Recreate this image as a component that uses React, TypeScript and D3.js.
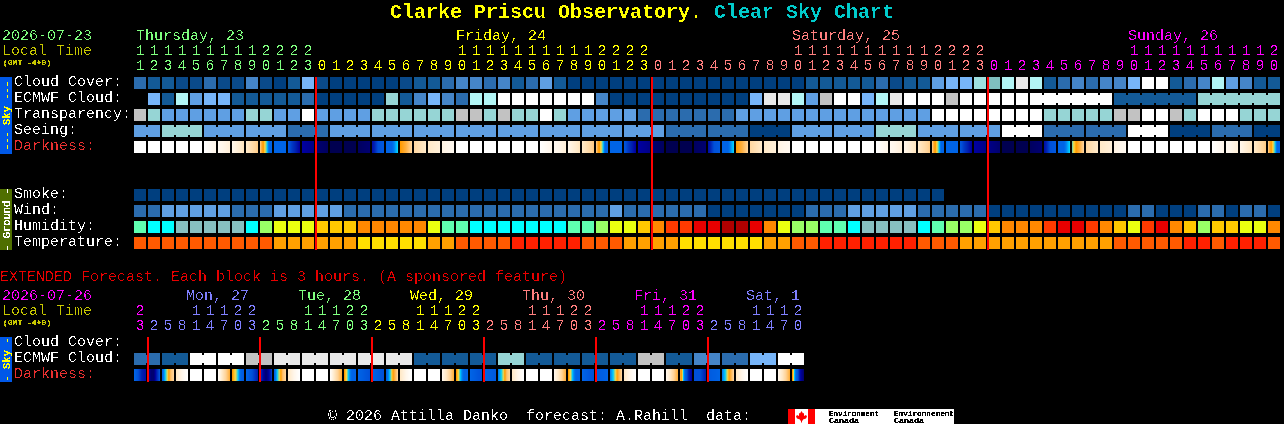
import React from "react";
import * as d3 from "d3";

const W = 1284, H = 424;

// ---------- data ----------
const hoursMain = [11,12,13,14,15,16,17,18,19,20,21,22,23,
  0,1,2,3,4,5,6,7,8,9,10,11,12,13,14,15,16,17,18,19,20,21,22,23,
  0,1,2,3,4,5,6,7,8,9,10,11,12,13,14,15,16,17,18,19,20,21,22,23,
  0,1,2,3,4,5,6,7,8,9,10,11,12,13,14,15,16,17,18,19,20];
const dayOfMain = (i: number) => (i < 13 ? "thu" : i < 37 ? "fri" : i < 61 ? "sat" : "sun");
const hoursExt = [23,2,5,8,11,14,17,20,23,2,5,8,11,14,17,20,23,2,5,8,11,14,17,20,23,2,5,8,11,14,17,20,23,2,5,8,11,14,17,20,23,2,5,8,11,14,17,20];
const dayOfExt = ["sun","mon","mon","mon","mon","mon","mon","mon","mon","tue","tue","tue","tue","tue","tue","tue","tue","wed","wed","wed","wed","wed","wed","wed","wed","thx","thx","thx","thx","thx","thx","thx","thx","frx","frx","frx","frx","frx","frx","frx","frx","sat2","sat2","sat2","sat2","sat2","sat2","sat2"];

const dayColors: Record<string, string> = {
  thu: "#7fff7f", fri: "#ffff00", sat: "#ff7f7f", sun: "#ff00ff",
  mon: "#7f7fff", tue: "#7fff7f", wed: "#ffff00", thx: "#ff7f7f", frx: "#ff00ff", sat2: "#7f7fff",
};
const dayLabelsMain = [
  { t: "Thursday, 23", x: 136, k: "thu" }, { t: "Friday, 24", x: 456, k: "fri" },
  { t: "Saturday, 25", x: 792, k: "sat" }, { t: "Sunday, 26", x: 1128, k: "sun" },
];
const dayLabelsExt = [
  { t: "Mon, 27", x: 186, k: "mon" }, { t: "Tue, 28", x: 298, k: "tue" }, { t: "Wed, 29", x: 410, k: "wed" },
  { t: "Thu, 30", x: 522, k: "thx" }, { t: "Fri, 31", x: 634, k: "frx" }, { t: "Sat, 1", x: 746, k: "sat2" },
];

const skyKeys = ["a","A","b","c","d","e","f","g","h","i","j","k","t","n"];
const skyColors = ["#003f7f","#0a4a8a","#135a97","#2b6cae","#4585c8","#5f9fe3","#77b5f9","#96d5d5","#b2f5f5","#c2c2c2","#e9e9e9","#ffffff","#7fbfbf","#9de0e0"];
const humidKeys = ["m","y","u","l","Y","A","O","R","D","K"];
const humidColors = ["#5fffb0","#00ffff","#87c0c0","#99ff66","#eaff10","#ffc800","#ff8800","#ff3a00","#e80000","#b00000"];
const tempKeys = ["o","p","z","r"];
const tempColors = ["#ff5a00","#ffa000","#ffdf00","#ff2000"];

const cloudCover = ("cbbAAcAAdAabfAaaaaaAb" + "bcddcdbceb" + "aaaaaaaaaaaaaaaaa" + "bbbb" + "bcAbbeffnthjhbcdcddfkkbcdhedbb").split("");
const ecmwfCloud = (".fbheffbbbbbcaaaaagbd" + "fdchhkkkkkkkd" + "aaaaaaaaaa" + "fjjheikk" + "fhjkkkik" + "kkkkkkkkkk" + "bbbbbb" + "gggggg").split("");
const transparency = ("igeeeeeeggeekeeeegggg" + "ggiigiggkg" + "eeeee" + "ccccccc" + "eeeeeeeee" + "eeeee" + "kkkkkkkk" + "ggggg" + "iikkigkkkggg").split("");
const seeingBlocks = [["e",2],["g",3],["e",3],["e",3],["c",3],["e",3],["e",3],["e",3],["e",3],["e",3],["e",3],["e",3],["e",3],["c",3],["c",3],["a",3],["e",3],["e",3],["g",3],["e",3],["e",3],["k",3],["c",3],["c",3],["k",3],["a",3],["c",3],["a",2]] as [string, number][];
const smoke = "aaaaaaaaaaaaaaaaaaaaaaaaaaaaaaaaaaaaaaaaaaaaaaaaaaaaaaaaaa".split("");
const wind = ("cceeeeeccceeeeecccccc" + "ccccccccccccc" + "e" + "cccccc" + "aaaaaaa" + "ccc" + "e" + "eeee" + "ccccc" + "aaaaaaaaaa" + "ccaaaccacca").split("");
const humidity = ("myyuuuuuylYYYAAAOOOOO" + "Ymm" + "yyyyyyy" + "mm" + "lYYAORRDDKKDOYllmmy" + "uuuuymllYAOOORDDROAYRDOAlAAYYO").split("");
const temperature = ("oooooooooo" + "pppppp" + "zzzzz" + "pp" + "oooo" + "rrrrr" + "ooo" + "pppp" + "zzzzzz" + "pp" + "oo" + "rrr" + "rrrr" + "ooo" + "ppppppppppp" + "ooooo" + "rrorrro").split("");
const ecmwfExt = ["c","b","k","k","i","j","j","j","j","j","b","b","b","g","b","b","b","b","i","b","d","c","f","k"];

const darkLevels = [0,1,2,3,4,5,5.5,5.8,6,6.5,7,8,9,10,11,12];
const darkColors = ["#ffffff","#fff6ea","#ffe9c8","#ffd398","#ffb040","#ff9a00","#ffd840","#80d0a0","#00d0ff","#0080f0","#0064e6","#0050d8","#0020b0","#0000a0","#000070","#000050"];

const darknessMain: number[][] = [
  [0],[0],[0],[0],[0],[0,1],[0.7,1.5],[1,2.2],[2,3.2],[3.4,4.8,5.5,6,7,7],[7],[7.8,8.5,9,10],[10,10.5],
  [11,11.5],[12],[12],[11.5,11],[9.5,8,7.6],[7,7,7,6.4,6],[5,4,3],[2.8,2],[2,1.5],[1.2,0.7],
  [0],[0],[0],[0],[0],[0],[0,1],[0.7,1.5],[1,2.2],[2,3.2],[3.4,4.8,5.5,6,7,7],[7],[7.8,8.5,9,10],[10,10.5],
  [11,11.5],[12],[12],[11.5,11],[9.5,8,7.6],[7,7,7,6.4,6],[5,4,3],[2.8,2],[2,1.5],[1.2,0.7],
  [0],[0],[0],[0],[0],[0],[0,1],[0.7,1.5],[1,2.2],[2,3.2],[3.4,4.8,5.5,6,7,7],[7],[7.8,8.5,9,10],[10,10.5],
  [10.5,11],[12],[12],[11.5,11],[9.5,8,7.6],[7,7,7,6.4,6],[5.8,5,4,3],[2.8,2],[2,1.5],[1.2,0.7],
  [0],[0],[0],[0],[0],[0],[0,1],[0.7,1.5],[1,2.2],[2,3.2],[3.4,4.8,5.5,6,7,7],
];
const darknessExt: number[][] = [
  [7,8,9,9.5],[10,11,11,9,8],[7,6,5.5,3.5,3],[2,1,0],[0],[0],[0.5,2,3,4],[5,5.5,6,7,7.5],[7,8,9],[8.5,10,11,10,8.5],
  [7,6,5.5,3.5,3],[2,1,0],[0],[0],[0.5,2,3,4],[5,6,7,7],[7,7.5,8],[7,7.5,8],[7,6.2,5.5,4,3],[2,1,0],[0],[0],
  [1,2,3,4],[5,6,7,7],[7,7.5,8],[7,7.5],[6.5,6,5.5,3.5,3],[2,1,0],[0],[0],[1,2,3,4],[5,6,7,7],[7,7.5,8],[7.5,7],
  [6.5,6,5.5,4,3],[2,1,0],[0],[0],[1,2,3,4],[4.5,6,7.5,9,10],[8,8,9],[7.5,7],[6.5,6,5.5,4,3],[2,1,0],[0],[0],[1,2,3,4],[5,6.5,8,10,11],
];

const redLinesMain = [13, 37, 61];
const redLinesExt = [1, 9, 17, 25, 33, 41];

// ---------- scales ----------
const x = d3.scaleLinear().domain([0, 1]).range([134, 148]);
const skyColor = d3.scaleOrdinal<string, string>().domain(skyKeys).range(skyColors);
const humidColor = d3.scaleOrdinal<string, string>().domain(humidKeys).range(humidColors);
const tempColor = d3.scaleOrdinal<string, string>().domain(tempKeys).range(tempColors);
const darkColor = d3.scaleLinear<string>().domain(darkLevels).range(darkColors).interpolate(d3.interpolateRgb);

const CELL = 12;
const MONO = '"Liberation Mono", monospace';

function Row({ vals, y, color, necks }: { vals: string[]; y: number; color: (k: string) => string; necks?: (i: number) => boolean }) {
  return (
    <g>
      {vals.map((v, i) =>
        v === "." ? null : (
          <g key={i}>
            <rect x={x(i)} y={y} width={CELL} height={CELL} fill={color(v)} />
            {necks && necks(i) && i + 1 < vals.length && vals[i + 1] === v ? (
              <rect x={x(i) + CELL} y={y + 2} width={2} height={8} fill={color(v)} />
            ) : null}
          </g>
        )
      )}
    </g>
  );
}

function DarkRow({ vals, y }: { vals: number[][]; y: number }) {
  const px = d3.range(CELL);
  return (
    <g>
      {vals.map((stops, i) => {
        const lev = stops.length === 1
          ? () => stops[0]
          : d3.scaleLinear().domain(stops.map((_, s) => (s * (CELL - 1)) / (stops.length - 1))).range(stops);
        return px.map((p) => (
          <rect key={i + "-" + p} x={x(i) + p} y={y} width={1} height={CELL} fill={darkColor(lev(p) as number)} />
        ));
      })}
    </g>
  );
}

const T = (p: any) => <text fontFamily={MONO} fontSize={15} xmlSpace="preserve" style={{ whiteSpace: "pre" }} {...p} />;

function Hours({ hours, colorOf, yTens, yUnits }: { hours: number[]; colorOf: (i: number) => string; yTens: number; yUnits: number }) {
  return (
    <g textAnchor="middle">
      {hours.map((h, i) => (
        <g key={i} fill={colorOf(i)}>
          {h >= 10 ? <T x={x(i) + 6} y={yTens}>{Math.floor(h / 10)}</T> : null}
          <T x={x(i) + 6} y={yUnits}>{h % 10}</T>
        </g>
      ))}
    </g>
  );
}

function SideLabel({ y0, y1, fill, color, label }: { y0: number; y1: number; fill: string; color: string; label: string }) {
  const c = (y0 + y1) / 2;
  return (
    <g>
      <rect x={0} y={y0} width={12} height={y1 - y0} fill={fill} shapeRendering="crispEdges" />
      <g filter="url(#crispSmall)">
        <text transform={`translate(9.5,${c}) rotate(-90)`} textAnchor="middle" fontFamily={MONO} fontSize={10.5} fill={color} style={{ whiteSpace: "pre" }}>{label}</text>
      </g>
    </g>
  );
}

export default function App() {
  const seeing = seeingBlocks.flatMap(([k, n]) => d3.range(n).map(() => k));
  const seeingEnds = new Set<number>();
  seeingBlocks.reduce((a, [, n]) => { seeingEnds.add(a + n - 1); return a + n; }, 0);
  const sky = (k: string) => skyColor(k);
  const extNeck = (i: number) => i % 2 === 0;
  const ecmwfExtCols = ecmwfExt.flatMap((k) => [k, k]);

  return (
    <svg width={W} height={H} viewBox={`0 0 ${W} ${H}`} style={{ position: "fixed", left: 0, top: 0, display: "block", background: "#000" }}>
      <defs>
        <filter id="crisp" filterUnits="userSpaceOnUse" x={0} y={0} width={W} height={H} colorInterpolationFilters="sRGB">
          <feComponentTransfer>
            <feFuncA type="discrete" tableValues="0 0 0 1 1" />
          </feComponentTransfer>
        </filter>
        <filter id="crispSmall" filterUnits="userSpaceOnUse" x={0} y={0} width={W} height={H} colorInterpolationFilters="sRGB">
          <feComponentTransfer>
            <feFuncA type="discrete" tableValues="0 1 1 1 1" />
          </feComponentTransfer>
        </filter>
      </defs>

      <g shapeRendering="crispEdges">
        <Row vals={cloudCover} y={77} color={sky} />
        <Row vals={ecmwfCloud} y={93} color={sky} necks={(i) => i >= 64} />
        <Row vals={transparency} y={109} color={sky} />
        <Row vals={seeing} y={125} color={sky} necks={(i) => !seeingEnds.has(i)} />
        <DarkRow vals={darknessMain} y={141} />
        <Row vals={smoke} y={189} color={sky} />
        <Row vals={wind} y={205} color={sky} />
        <Row vals={humidity} y={221} color={(k) => humidColor(k)} />
        <Row vals={temperature} y={237} color={(k) => tempColor(k)} />
        <Row vals={ecmwfExtCols} y={353} color={sky} necks={extNeck} />
        <DarkRow vals={darknessExt} y={369} />
        {redLinesMain.map((c) => <rect key={c} x={x(c) - 1} y={77} width={2} height={173} fill="#ff0000" />)}
        {redLinesExt.map((c) => <rect key={c} x={x(c) - 1} y={337} width={2} height={45} fill="#ff0000" />)}
      </g>

      <g filter="url(#crisp)">
        <text x={390} y={18} fontFamily={MONO} fontWeight="bold" fontSize={20} fill="#ffff00">Clarke Priscu Observatory.</text>
        <text x={714} y={18} fontFamily={MONO} fontWeight="bold" fontSize={20} fill="#00cccc">Clear Sky Chart</text>

        <T x={2} y={40} fill="#7fff7f">2026-07-23</T>
        <T x={2} y={55} fill="#c8c800">Local Time</T>
        {dayLabelsMain.map((d) => <T key={d.t} x={d.x} y={40} fill={dayColors[d.k]}>{d.t}</T>)}
        <Hours hours={hoursMain} colorOf={(i) => dayColors[dayOfMain(i)]} yTens={55} yUnits={70} />

        <g fill="#ffffff">
          <T x={14} y={86}>Cloud Cover:</T>
          <T x={14} y={102}>ECMWF Cloud:</T>
          <T x={14} y={118}>Transparency:</T>
          <T x={14} y={134}>Seeing:</T>
          <T x={14} y={198}>Smoke:</T>
          <T x={14} y={214}>Wind:</T>
          <T x={14} y={230}>Humidity:</T>
          <T x={14} y={246}>Temperature:</T>
          <T x={14} y={346}>Cloud Cover:</T>
          <T x={14} y={362}>ECMWF Cloud:</T>
        </g>
        <T x={14} y={150} fill="#e83030">Darkness:</T>
        <T x={14} y={378} fill="#e83030">Darkness:</T>

        <T x={0} y={281} fill="#e80000">EXTENDED Forecast. Each block is 3 hours. (A sponsored feature)</T>
        <T x={2} y={300} fill="#ff00ff">2026-07-26</T>
        <T x={2} y={315} fill="#c8c800">Local Time</T>
        {dayLabelsExt.map((d) => <T key={d.t} x={d.x} y={300} fill={dayColors[d.k]}>{d.t}</T>)}
        <Hours hours={hoursExt} colorOf={(i) => dayColors[dayOfExt[i]]} yTens={315} yUnits={330} />

        <T x={328} y={420} fill="#ffffff">{"© 2026 Attilla Danko  forecast: A.Rahill  data:"}</T>
      </g>

      <g filter="url(#crispSmall)" fontFamily={MONO} fontSize={8} fill="#c8c800">
        <text x={3} y={65}>(GMT -4+0)</text>
        <text x={3} y={325}>(GMT -4+0)</text>
      </g>

      <SideLabel y0={77} y1={154} fill="#0058e8" color="#ffff00" label="--- Sky ---" />
      <SideLabel y0={189} y1={250} fill="#4f6f00" color="#ffffff" label="- Ground -" />
      <SideLabel y0={337} y1={382} fill="#0058e8" color="#ffff00" label="- Sky -" />

      <g>
        <rect x={788} y={409} width={166} height={15} fill="#ffffff" shapeRendering="crispEdges" />
        <rect x={788} y={409} width={7} height={15} fill="#ff0000" shapeRendering="crispEdges" />
        <rect x={808} y={409} width={7} height={15} fill="#ff0000" shapeRendering="crispEdges" />
        <path d="M801.5 411 l1.5 2.5 1 -0.5 0 3 2 -1 1 1.5 -1 2 -3 1 0 1 -1 0 0 2 -1 0 0 -2 -1 0 0 -1 -3 -1 -1 -2 1 -1.5 2 1 0 -3 1 0.5z" fill="#ff0000" />
        <g filter="url(#crispSmall)" fontFamily={MONO} fontSize={8} fill="#000000">
          <text x={829} y={416} textLength={50} lengthAdjust="spacingAndGlyphs">Environment</text>
          <text x={829} y={423} textLength={30} lengthAdjust="spacingAndGlyphs">Canada</text>
          <text x={894} y={416} textLength={60} lengthAdjust="spacingAndGlyphs">Environnement</text>
          <text x={894} y={423} textLength={30} lengthAdjust="spacingAndGlyphs">Canada</text>
        </g>
      </g>
    </svg>
  );
}
